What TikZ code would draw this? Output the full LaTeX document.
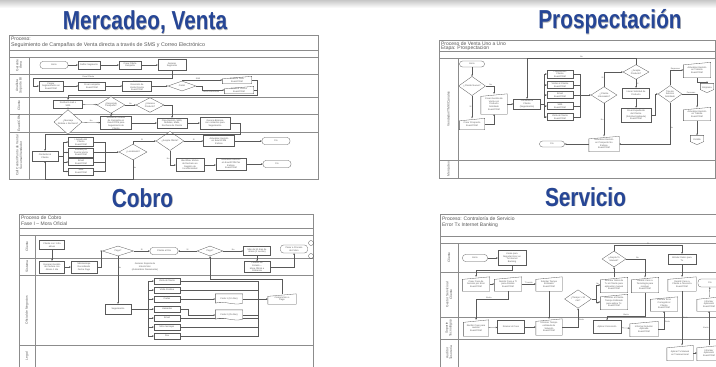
\documentclass[tikz,border=0pt]{standalone}
\usepackage{fontspec}
\usepackage{graphicx}
\setmainfont{Liberation Sans}
\usetikzlibrary{shapes.geometric,arrows.meta,positioning}

\definecolor{azultitulo}{RGB}{38,70,150}
\newcommand{\letrita}{\fontsize{2.3}{2.6}\selectfont}

% entrada manual: caja con el borde de arriba inclinado
\newcommand{\entrada}[4][]{%
  \node[box, draw=none, fill=none, minimum height=11pt, #1] (#2) at (#3) {#4};
  \draw (#2.south west) -- (#2.south east) -- (#2.north east) -- ([yshift=-2.5pt]#2.north west) -- cycle;}
% documento: borde de abajo ondulado
\newcommand{\documento}[3]{%
  \node[box, draw=none, fill=none, minimum width=27pt, minimum height=10pt] (#1) at (#2) {#3};
  \draw[fill=white] ([yshift=1pt]#1.south west) -- (#1.north west) -- (#1.north east) -- ([yshift=1pt]#1.south east)
    .. controls +(-9pt,-3pt) and +(9pt,3pt) .. ([yshift=1pt]#1.south west);
  \node[box, draw=none, fill=none, minimum width=27pt, minimum height=10pt] at (#2) {#3};}
% conector fuera de pagina
\newcommand{\conector}[3]{%
  \node[box, draw=none, fill=none, minimum width=13pt, minimum height=9pt] (#1) at (#2) {#3};
  \draw (#1.north west) -- (#1.north east) -- ([yshift=3pt]#1.south east) -- (#1.south) -- ([yshift=3pt]#1.south west) -- cycle;}

\tikzset{
  box/.style={draw, fill=white, minimum width=26pt, minimum height=8pt,
    inner sep=0.4pt, align=center, font=\letrita},
  dec/.style={box, diamond, minimum width=28pt, minimum height=10pt, inner sep=0pt},
  term/.style={box, rounded corners=3pt, minimum height=7pt},
  lbl/.style={font=\fontsize{2}{2}\selectfont, inner sep=0.4pt},
  lane/.style={rotate=90, align=center, font=\fontsize{3.3}{3.7}\selectfont},
  hdr/.style={anchor=west, inner sep=0pt, font=\fontsize{5}{5}\selectfont},
  frm/.style={draw=black!45, line width=0.4pt},
  titulo/.style={anchor=base, inner sep=0pt, text=azultitulo, font=\fontsize{26}{26}\selectfont\bfseries},
  sombra/.style={titulo, text=black!30},
}

\begin{document}
\begin{tikzpicture}[x=1pt, y=-1pt, line width=0.3pt, color=black!65,
  >={Stealth[length=1.8pt,width=1.5pt]}]
\useasboundingbox (0,0) rectangle (716,367);
\clip (0,0) rectangle (716,367);
\fill[white] (0,0) rectangle (716,367);
\shade[top color=black!22, bottom color=white] (0,0) rectangle (716,8);

% Titulos
\node[sombra] (t1s) at (145.6,30.1) {\scalebox{0.8}[1]{Mercadeo, Venta}};
\node[titulo] (t1) at (145,29.5) {\scalebox{0.8}[1]{Mercadeo, Venta}};
\node[sombra] (t2s) at (610.6,29.1) {\scalebox{0.8}[1]{Prospectación}};
\node[titulo] (t2) at (610,28.5) {\scalebox{0.8}[1]{Prospectación}};
\node[sombra] (t3s) at (143.1,207.6) {\scalebox{0.8}[1]{Cobro}};
\node[titulo] (t3) at (142.5,207) {\scalebox{0.8}[1]{Cobro}};
\node[sombra] (t4s) at (586.1,206.6) {\scalebox{0.8}[1]{Servicio}};
\node[titulo] (t4) at (585.5,206) {\scalebox{0.8}[1]{Servicio}};

% ---------- Mercadeo, Venta ----------
\draw[frm] (9,35) rectangle (318,179);
\draw[frm] (9,50) -- (318,50);
\draw[frm] (9,57) -- (318,57);
\foreach \y in {74,97,114,132} \draw[frm] (9,\y) -- (318,\y);
\draw[frm] (29,57) -- (29,179);
\node[hdr] (h1) at (11,39) {Proceso:};
\node[hdr, font=\fontsize{5.3}{5.3}\selectfont] (h1b) at (11,45) {Seguimiento de Campañas de Venta directa a través de SMS y Correo Electrónico};
\node[lane] (l1a) at (19,65.5) {Gerente\\Área};
\node[lane] (l1b) at (19,85.5) {Analista\\Soporte BI};
\node[lane] (l1c) at (19,105.5) {Cliente};
\node[lane] (l1d) at (19,123) {Exact/CRM};
\node[lane] (l1e) at (19,155.5) {Call Center/Punto de Venta/\\Sucursal/Vendedor};

\node[term, minimum width=28pt] (ini1) at (54,65) {Inicio};
\node[box, minimum width=22pt] (defs) at (89,65) {Definir Segmento};
\node[box, minimum width=22pt] (crof) at (130,65) {Crear Oferta\\Campaña};
\node[box, minimum width=28pt, minimum height=11pt] (gens) at (172,65) {Generar\\Segmento};
\node[box, minimum width=24pt, minimum height=10pt] (cars) at (51,86) {Cargar\\Segmentación en\\Exact/CRM};
\node[box, minimum width=27pt] (crca) at (92,86) {Crear campaña\\Exact/CRM};
\node[box, minimum width=29pt, minimum height=10pt] (gedv) at (137,86) {Generar\\Dirección de\\Venta Directa\\Exact/CRM};
\node[dec] (canal) at (182,86) {Canal};
\entrada[minimum width=29pt, minimum height=7pt]{rsms}{237,80}{Realizar SMS\\Exact/CRM}
\entrada[minimum width=29pt, minimum height=7pt]{rcor}{239,90}{Realizar Correo\\Exact/CRM}
\node[box, minimum width=29pt] (reci) at (68,104) {Recibe E-mail o\\SMS};
\node[dec] (resp) at (111,105) {¿Responde\\Campaña?};
\node[dec] (inte) at (150,105) {¿Interesa\\Producto?};
\node[dec] (rebo) at (68,122) {¿Mensaje\\Rebota o Rechaza?};
\node[box, minimum width=31pt, minimum height=13pt] (aces) at (116,123) {Actualizar Estatus\\de Campaña en\\Exact/CRM para\\Seguimiento de\\Cliente};
\node[box, minimum width=30pt, minimum height=10pt] (crge) at (172,123) {Crea Gestión, SMS,\\Rebotes, Mails,\\Rechazo de Cliente};
\node[box, minimum width=30pt, minimum height=12pt] (gebi) at (215,123) {Genera Bitácora\\con contactos para\\Seguimiento};
\node[box, minimum width=26pt, minimum height=10pt] (cont) at (45,156) {Contactar al\\Cliente};
\node[box, minimum width=25pt, minimum height=9pt] (ccl) at (81,142) {Llamada del\\Cliente\\Exact/CRM};
\node[box, minimum width=25pt, minimum height=9pt] (cvi) at (81,152.5) {Visitado por\\Fuerza Venta\\Exact/CRM};
\node[box, minimum width=25pt, minimum height=7pt] (cem) at (81,162) {Email\\Exact/CRM};
\node[box, minimum width=25pt, minimum height=7pt] (csm) at (81,171.5) {SMS\\Exact/CRM};
\node[dec] (loca) at (133,152) {¿Localizado?};
\node[dec] (acep) at (170,141) {¿Acepta Oferta?};
\node[box, minimum width=31pt, minimum height=11pt] (acex) at (219,141) {Actualizar Gestión\\en Exact/CRM\\Exitoso};
\node[term, minimum width=28pt] (fin1a) at (276,141) {Fin};
\node[box, minimum width=28pt, minimum height=13pt] (idmo) at (190,165) {Identificar Motivo\\de Rechazo en\\Registro de\\Inconformidad};
\node[box, minimum width=30pt, minimum height=12pt] (acne) at (231,164) {Actualizar Gestión\\en Exact/CRM No\\Exitoso\\Exact/CRM};
\node[term, minimum width=28pt] (fin1b) at (277,164) {Fin};

\draw[->] (ini1) -- (defs);
\draw[->] (defs) -- (crof);
\draw[->] (crof) -- (gens);
\draw[->] (gens.south) -- ++(0,7) -| node[lbl, pos=0.3, above] {Excel Cliente} ([xshift=-6pt]cars.west) -- (cars.west);
\draw[->] (cars) -- (crca);
\draw[->] (crca) -- (gedv);
\draw[->] (gedv) -- (canal);
\draw[->] (canal.north) |- (rsms.west) node[lbl, pos=0.7, above] {SMS};
\draw[->] (canal.east) -- ++(6,0) |- (rcor.west) node[lbl, pos=0.7, below] {Correo Electrónico};
\coordinate (m1a) at (257,95);
\draw[->] (rsms.east) -| (m1a) -| (reci.north);
\draw (rcor.east) -- (rcor.east -| m1a);
\draw[->] (reci) -- (resp);
\draw[->] (resp) -- (inte) node[lbl, midway, above] {No};
\draw[->] (reci.south) -- (rebo.north);
\draw[->] (rebo) -- (aces) node[lbl, midway, above] {No};
\draw[->] (resp.south) -- (resp.south |- aces.north) node[lbl, midway, right] {Sí};
\draw[->] (inte.east) -| (crge.north);
\draw[->] (aces) -- (crge);
\draw[->] (crge) -- (gebi);
\coordinate (m1b) at (240,134);
\draw[->] (gebi.east) -| (m1b) -| (cont.north);
\coordinate (m1c) at (63,156);
\foreach \n in {ccl,cvi,cem,csm} \draw[->] (cont.east) -| (m1c) |- (\n.west);
\coordinate (m1d) at (105,152);
\foreach \n in {ccl,cvi,cem,csm} \draw (\n.east) -| (m1d);
\draw[->] (m1d) -- (loca.west);
\draw[->] (loca.north) |- (acep.west) node[lbl, pos=0.7, above] {Sí};
\draw[->] (loca.south) -- node[lbl, pos=0.4, right] {No} ++(0,19) -| (cont.south);
\draw[->] (acep) -- (acex) node[lbl, midway, above] {Sí};
\draw[->] (acex) -- (fin1a);
\draw[->] (acep.south) |- (idmo.west) node[lbl, pos=0.3, left] {No};
\draw[->] (idmo.east) -- (idmo.east -| acne.west);
\draw[->] (acne) -- (fin1b);

% ---------- Prospectacion ----------
\draw[frm] (439,40) rectangle (715,178);
\draw[frm] (439,51) -- (715,51);
\draw[frm] (439,58) -- (715,58);
\draw[frm] (439,160) -- (715,160);
\draw[frm] (458,58) -- (458,178);
\node[hdr] (h2) at (441,43.5) {Proceso de Venta Uno a Uno};
\node[hdr] (h2b) at (441,48) {Etapa: Prospectacion};
\node[lane] (l2a) at (448.5,109) {Vendedor/TMK/Canales};
\node[lane] (l2b) at (448.5,169) {Mercadeo};

\node[term, minimum width=25pt, minimum height=6pt] (ini2) at (472,64) {Inicio};
\node[dec, minimum width=27pt] (clnu) at (472,86) {¿Cliente Nuevo?};
\entrada[minimum width=25pt]{crpr}{472,124}{Crear Prospecto\\Exact/CRM}
\entrada[minimum width=26pt, minimum height=20pt]{crgv}{494,104}{Crear Gestión de\\Venta con\\Producto\\Solicitado\\Exact/CRM}
\node[box, minimum width=27pt, minimum height=10pt] (coc2) at (527,104) {Contactar al\\Cliente\\(Seguimiento)};
\node[box, minimum height=7pt] (pll) at (560,74) {Llamada del\\Cliente\\Exact/CRM};
\node[box, minimum height=7pt] (pvi) at (560,85) {Visitar al Cliente\\Exact/CRM};
\node[box, minimum height=7pt] (pem) at (560,95) {Email\\Exact/CRM};
\node[box, minimum height=7pt] (psm) at (560,106) {SMS\\Exact/CRM};
\node[box, minimum height=7pt] (pvc) at (560,117) {Visita al Cliente\\Exact/CRM};
\node[dec, minimum width=26pt, minimum height=13pt] (clin) at (604,95) {¿Cliente\\Interesado?};
\node[dec, minimum width=26pt] (acpr) at (636,72) {¿Acepta\\Producto?};
\node[box, minimum width=27pt, minimum height=10pt] (llso) at (636,93) {Llenar Solicitud de\\Producto};
\node[box, minimum width=30pt, minimum height=14pt] (crex) at (636,115) {Crear Expediente\\del Cliente\\(Solicitud Aplicada)\\Exact/CRM};
\node[dec, minimum width=24pt, minimum height=12pt] (tise) at (670,94) {Tipo de\\Servicio\\Solicitado};
\entrada[minimum width=27pt, minimum height=15pt]{agtr}{697,70}{Actualizar Gestión\\en Tránsito\\Exact/CRM}
\conector{op1}{707,88}{Empresa}
\entrada[minimum width=27pt, minimum height=13pt]{agtm}{697,114}{Actualizar Gestión\\en Trámite\\Exact/CRM}
\conector{op2}{697,140}{Crédito}
\entrada[minimum width=30pt, minimum height=15pt]{agne}{604,144}{Actualizar Gestión\\en Prospecto No\\Exitoso\\Exact/CRM}
\node[term, minimum width=25pt, minimum height=6pt] (fin2) at (552,144) {Fin};

\draw[->] (ini2) -- (clnu);
\draw[->] (clnu) -- (crpr) node[lbl, midway, left] {Sí};
\draw[->] (clnu.east) -| (crgv.north) node[lbl, pos=0.3, above] {No};
\draw[->] (crpr.east) -| (crgv.south);
\draw[->] (crgv) -- (coc2);
\coordinate (m2a) at (544,104);
\foreach \n in {pll,pvi,pem,psm,pvc} \draw[->] (coc2.east) -| (m2a) |- (\n.west);
\coordinate (m2b) at (580,95);
\foreach \n in {pll,pvi,pem,psm,pvc} \draw (\n.east) -| (m2b);
\draw[->] (m2b) -- (clin.west);
\draw[->] (clin.north) |- (acpr.west) node[lbl, pos=0.3, left] {Sí};
\draw[->] (clin.south) -- (agne.north) node[lbl, midway, left] {No};
\draw[->] (acpr.north) -- ++(0,-6) -| (coc2.north) node[lbl, pos=0.25, above] {No};
\draw[->] (acpr) -- (llso) node[lbl, midway, right] {Sí};
\draw[->] (llso) -- (crex);
\draw[->] (crex.east) -- ++(4,0) |- (tise.west);
\draw[->] (tise.north) |- (agtr.west) node[lbl, pos=0.7, above] {Empresas};
\draw[->] (tise.east) -| (agtm.north) node[lbl, pos=0.3, above] {Personas};
\draw[->] (agtr.south) -- ++(0,4) -| (op1.north);
\draw[->] (agtm) -- (op2);
\draw[->] (tise.south) |- (agne.east) node[lbl, pos=0.3, right] {No};
\draw[->] (agne) -- (fin2);

% ---------- Cobro ----------
\draw[frm] (19,214) rectangle (313,370);
\draw[frm] (19,228) -- (313,228);
\draw[frm] (19,235) -- (313,235);
\foreach \y in {258,275,345} \draw[frm] (19,\y) -- (313,\y);
\draw[frm] (35,235) -- (35,370);
\node[hdr] (h3) at (21,218) {Proceso de Cobro};
\node[hdr] (h3b) at (21,223.5) {Fase I -- Mora Oficial};
\node[lane] (l3a) at (27,246.5) {Cliente};
\node[lane] (l3b) at (27,266.5) {Sistema};
\node[lane] (l3c) at (27,310) {Oficial de Negocios};
\node[lane] (l3d) at (27,356) {Legal};

\node[box, minimum width=25pt, minimum height=9pt] (c1d) at (52,245) {Cliente con 1 día\\atraso};
\node[dec, minimum width=31pt] (pag1) at (118,251) {Pago?};
\node[term, minimum width=28pt] (cadi) at (164,251) {Cliente al Día};
\node[dec, minimum width=26pt] (pag2) at (210,251) {Pago?};
\node[box, minimum width=27pt, minimum height=9pt] (m30d) at (257,251) {Más de 30 días de\\atraso (2 cuotas)};
\node[term, minimum width=27pt, minimum height=8pt] (ppco) at (294,249) {Pasar a Proceso\\de Cobro};
\node[circle, draw, minimum size=5pt, inner sep=0pt] (oc1) at (311,243) {};
\node[circle, draw, minimum size=5pt, inner sep=0pt] (oc2) at (311,256) {};
\node[box, minimum width=25pt, minimum height=12pt] (ggca) at (52,267) {Generar Gestión\\de Cartera con\\Atraso 1 día};
\node[box, minimum width=26pt, minimum height=12pt] (mmfp) at (84,267) {Minimensaje\\Recordando\\Fecha Pago};
\node[box, double, double distance=0.6pt, minimum width=35pt, minimum height=11pt] (grim) at (145,267) {Generar Reporte de\\Interés Mor.\\(Automático Diariamente)};
\node[box, minimum width=26pt, minimum height=11pt] (cemo) at (257,267) {Cambio de\\Estado --\\Mora Oficial a\\Cobranza};
\node[box, minimum width=26pt, minimum height=10pt] (segu) at (118,309) {Seguimiento};
\node[box, minimum height=6.5pt] (vcli) at (167,281) {Visita al Cliente};
\node[box, minimum height=6.5pt] (vpos) at (167,290) {Visita Positiva};
\node[box, minimum height=6.5pt] (cart) at (167,299) {Cartas};
\node[box, minimum height=6.5pt] (llam) at (167,309) {Llamadas};
\node[box, minimum height=6.5pt] (emai) at (167,318) {Email};
\node[box, minimum height=6.5pt] (mime) at (167,327) {Mini mensajes};
\node[box, minimum height=6.5pt] (fax) at (167,336) {Fax};
% lineas que pasan por debajo de las cartas
\coordinate (m3c) at (258,299);
\foreach \n in {vcli,vpos,emai,mime,fax} \draw (\n.east) -| (m3c);
\documento{car1}{229,299}{Carta 1 (10 días)}
\documento{car2}{229,315}{Carta 2 (25 días)}
\entrada[minimum width=28pt, minimum height=10pt]{comp}{282,299}{Compromiso o\\Pago}

\draw[->] (c1d) -- (ggca);
\draw[->] (ggca) -- (mmfp);
\draw[->] (mmfp.east) -- ++(4,0) |- (pag1.west);
\draw[->] (pag1) -- (cadi) node[lbl, midway, above] {Sí};
\draw[->] (pag2) -- (cadi) node[lbl, midway, above] {Sí};
\draw[->] (pag2) -- (m30d) node[lbl, midway, above] {No};
\draw[->] (m30d) -- (cemo);
\draw[->] (cemo.east) -| (ppco.south);
\draw[->] (pag1) -- (segu) node[lbl, pos=0.25, right] {No};
\coordinate (m3a) at (148,309);
\foreach \n in {vcli,vpos,cart,llam,emai,mime,fax} \draw[->] (segu.east) -| (m3a) |- (\n.west);
\draw[->] (cart) -- (car1);
\draw[->] (llam.east) -- ++(8,0) |- (car2.west);
\draw (car1.east) -- (m3c);
\draw (car2.east) -| (m3c);
\draw[->] (m3c) -- (comp.west);
\draw[->] (comp.north) -- ++(0,-15) -| (pag2.south);

% ---------- Servicio ----------
\draw[frm] (440,214) rectangle (718,370);
\draw[frm] (440,236) -- (718,236);
\draw[frm] (440,243) -- (718,243);
\foreach \y in {272,317,339} \draw[frm] (440,\y) -- (718,\y);
\draw[frm] (458,243) -- (458,370);
\node[hdr] (h4) at (442,218.5) {Proceso: Contraloría de Servicio};
\node[hdr] (h4b) at (442,225) {Error Tx Internet Banking};
\node[lane] (l4a) at (449,257.5) {Cliente};
\node[lane] (l4b) at (449,294.5) {Gestor Servicio al\\Cliente};
\node[lane] (l4c) at (449,328) {Soporte\\Tecnológico};
\node[lane] (l4d) at (449,353) {Auditor\\Tesorería};

\node[term, minimum width=25pt] (ini4) at (475,258) {Inicio};
\node[box, minimum width=28pt, minimum height=15pt] (llre) at (512,258) {Llama para\\Reportar Error en\\Tx Internet\\Banking};
\node[dec, minimum width=24pt, minimum height=14pt] (actm) at (614,259) {¿Acepta Tx\\Manual?};
\node[box, minimum width=28pt, minimum height=10pt] (brdt) at (682,259) {Brindar Datos para\\Tx};
\entrada[minimum width=27pt, minimum height=14pt]{crcs}{476,284}{Crear Caso de\\Servicio por Error\\Exact/CRM}
\entrada[minimum width=27pt, minimum height=14pt]{rcti}{508,284}{Remitir Caso a TI\\para Análisis\\Exact/CRM}
\entrada[minimum width=26pt, minimum height=14pt]{sote}{549,284}{Solicitar Tiempo\\Estimado\\Exact/CRM}
\node[dec, minimum width=27pt, minimum height=15pt] (t30m) at (578,299) {¿Tiempo > 30\\min?};
\entrada[minimum width=27pt, minimum height=15pt]{idtx}{614,285}{Informar Datos de\\Tx al Cliente para\\aplicación manual\\Exact/CRM}
\entrada[minimum width=27pt, minimum height=15pt]{itec}{614,302}{Informar al Cliente\\Tiempo Estimado\\para aplicar Tx\\Exact/CRM}
\entrada[minimum width=27pt, minimum height=15pt]{rcte}{645,285}{Remitir Caso a\\Tecnología para\\resolver\\Exact/CRM}
\entrada[minimum width=27pt, minimum height=14pt]{iecc}{664,304}{Informar Error\\Corregido al\\Cliente\\Exact/CRM}
\entrada[minimum width=28pt, minimum height=14pt]{rcts}{682,284}{Remitir Caso a\\Cliente a Tesorería\\Exact/CRM}
\node[term, minimum width=24pt, minimum height=8pt] (fin4) at (710,283) {Fin};
\entrada[minimum width=24pt, minimum height=14pt]{iapl}{709,304}{Informar\\Aplicación\\Exact/CRM}
\entrada[minimum width=25pt, minimum height=16pt]{rcrv}{476,328}{Recibir Caso para\\revisión\\Exact/CRM}
\node[box, minimum width=27pt, minimum height=13pt] (reca) at (511,327) {Revisar el Caso};
\entrada[minimum width=26pt, minimum height=16pt]{itso}{549,327}{Informar Tiempo\\estimado de\\Solución\\Exact/CRM}
\node[box, minimum width=28pt, minimum height=13pt] (apco) at (607,327) {Aplicar Corrección};
\entrada[minimum width=28pt, minimum height=15pt]{isap}{644,329}{Informar Solución\\Aplicada\\Exact/CRM}
\entrada[minimum width=26pt, minimum height=15pt]{atxm}{680,353}{Aplicar Tx Manual\\en Transaccional}
\entrada[minimum width=24pt, minimum height=15pt]{iaex}{709,353}{Informar\\Aplicación\\Exact/CRM}

\draw[->] (ini4) -- (llre);
\draw[->] (llre.south) -- ++(0,4) -| (crcs.north);
\draw[->] (crcs) -- (rcti);
\draw[->] (rcti) -- (sote) node[lbl, midway, above] {TI remite};
\draw[->] (rcti.south) -- ++(0,8) -| (rcrv.north) node[lbl, pos=0.3, above] {Alerta};
\draw[->] (rcrv) -- (reca);
\draw[->] (reca) -- (itso);
\draw[->] (sote) -- (itso);
\draw[->] (itso.east) -| (t30m.south) node[lbl, pos=0.7, right] {Alerta};
\draw[->] (t30m.east) -- ++(4,0) |- (idtx.west) node[lbl, pos=0.7, above] {No};
\draw[->] (t30m.east) -- ++(4,0) |- (itec.west) node[lbl, pos=0.7, below] {Sí};
\draw[->] (idtx) -- (actm);
\draw[->] (actm.east) -| (rcte.north) node[lbl, pos=0.3, above] {No};
\draw[->] (actm.north) -- ++(0,-6) -| (brdt.north) node[lbl, pos=0.25, above] {Sí};
\draw[->] (brdt) -- (rcts);
\draw[->] (rcts.south) -- (rcts.south |- atxm.north) node[lbl, pos=0.5, right] {Alerta};
\draw[->] (atxm) -- (iaex);
\draw[->] (iaex) -- (iapl) node[lbl, midway, left] {Alerta};
\draw[->] (iapl) -- (fin4);
\draw[->] (rcte.south) -- ++(0,23) -| (apco.north) node[lbl, pos=0.25, above] {Alerta};
\draw[->] (apco) -- (isap);
\draw[->] (isap.east) -| (iecc.south) node[lbl, pos=0.7, right] {Alerta};
\end{tikzpicture}
\end{document}
